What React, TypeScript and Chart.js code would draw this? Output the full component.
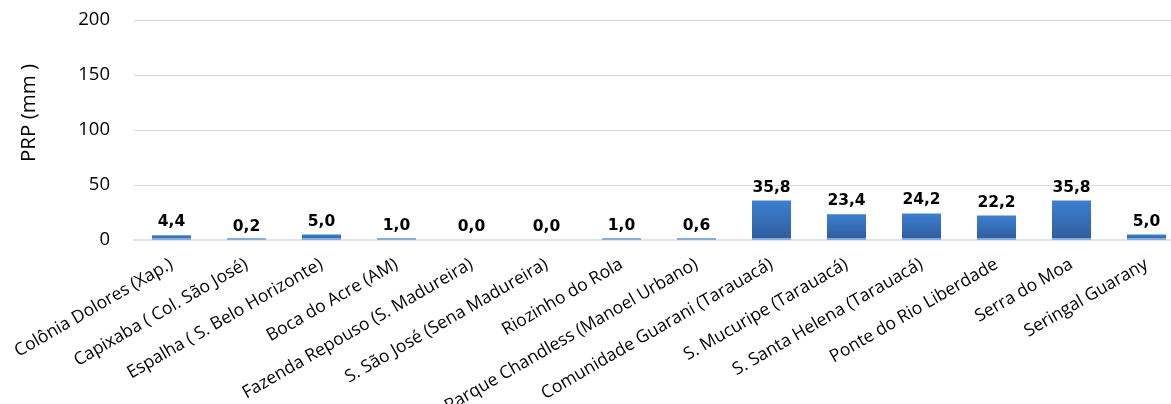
import React, { useEffect, useRef } from "react";
import { Chart, registerables } from "chart.js";

Chart.register(...registerables);

const categories = [
  "Colônia Dolores (Xap.)",
  "Capixaba ( Col. São José)",
  "Espalha ( S. Belo Horizonte)",
  "Boca do Acre (AM)",
  "Fazenda Repouso (S. Madureira)",
  "S. São José (Sena Madureira)",
  "Riozinho do Rola",
  "Parque Chandless (Manoel Urbano)",
  "Comunidade Guarani (Tarauacá)",
  "S. Mucuripe (Tarauacá)",
  "S. Santa Helena (Tarauacá)",
  "Ponte do Rio Liberdade",
  "Serra do Moa",
  "Seringal Guarany",
];

const prpValues = [4.4, 0.2, 5.0, 1.0, 0.0, 0.0, 1.0, 0.6, 35.8, 23.4, 24.2, 22.2, 35.8, 5.0];

const yTicks = [0, 50, 100, 150, 200];
const yTitle = "PRP (mm )";

const fmt = (v: number) => v.toFixed(1).replace(".", ",");

const labelPlugin = {
  id: "valueLabels",
  afterDatasetsDraw(chart: any) {
    const ctx = chart.ctx;
    const meta = chart.getDatasetMeta(0);
    const base = chart.scales.y.getPixelForValue(0);
    ctx.save();
    // light base strip of each non-zero bar (as in the reference rendering)
    ctx.fillStyle = "#86abdc";
    meta.data.forEach((bar: any, i: number) => {
      if (prpValues[i] > 0) {
        ctx.fillRect(bar.x - bar.width / 2, base - 2, bar.width, 2);
      }
    });
    ctx.font = "bold 15.5px 'DejaVu Sans'";
    ctx.fillStyle = "#000000";
    ctx.textAlign = "center";
    ctx.textBaseline = "middle";
    meta.data.forEach((bar: any, i: number) => {
      ctx.fillText(fmt(prpValues[i]), bar.x, bar.y - 13);
    });
    // y-axis title
    const area = chart.chartArea;
    ctx.translate(29, area.top + 93);
    ctx.rotate(-Math.PI / 2);
    ctx.font = "20.5px 'Open Sans'";
    ctx.fillText(yTitle, 0, 0);
    ctx.restore();
  },
};

export default function App() {
  const ref = useRef<HTMLCanvasElement | null>(null);
  useEffect(() => {
    if (!ref.current) return;
    const chart = new Chart(ref.current, {
      type: "bar",
      data: {
        labels: categories,
        datasets: [
          {
            data: prpValues,
            barPercentage: 0.52,
            categoryPercentage: 1,
            backgroundColor: (c: any) => {
              const ch = c.chart;
              const ys = ch.scales?.y;
              if (!ys || c.dataIndex === undefined) return "#3a74c0";
              const top = ys.getPixelForValue(prpValues[c.dataIndex]);
              const bot = ys.getPixelForValue(0);
              if (!isFinite(top) || !isFinite(bot)) return "#3a74c0";
              if (bot - top < 3) return "#7aa3d8";
              const g = ch.ctx.createLinearGradient(0, top, 0, bot);
              g.addColorStop(0, "#3e7fd0");
              g.addColorStop(1, "#2d5d9c");
              return g;
            },
            borderWidth: 0,
          },
        ],
      },
      options: {
        animation: false,
        responsive: false,
        maintainAspectRatio: false,
        layout: { padding: { top: 20, left: 0, right: 0, bottom: 0 } },
        plugins: {
          legend: { display: false },
          tooltip: { enabled: false },
        },
        scales: {
          x: {
            grid: { display: false },
            border: { display: true, color: "#dbe4f0", width: 2 },
            ticks: {
              minRotation: 30,
              maxRotation: 30,
              autoSkip: false,
              color: "#000000",
              font: { family: "'Open Sans'", size: 17.5 },
              padding: 6,
            },
            afterFit: (s: any) => {
              s.height = 164;
              s.paddingTop = 0;
              s.paddingLeft = 0;
              s.paddingRight = 0;
            },
          },
          y: {
            min: 0,
            max: 200,
            afterBuildTicks: (s: any) => {
              s.ticks = yTicks.map((v) => ({ value: v }));
            },
            grid: { color: "#d9d9d9", lineWidth: 1, drawTicks: false },
            border: { display: false },
            ticks: {
              color: "#000000",
              font: { family: "'Open Sans'", size: 18.5 },
              padding: 24,
            },
            title: { display: false },
            afterFit: (s: any) => {
              s.width = 134;
              s.paddingTop = 0;
              s.paddingBottom = 0;
            },
          },
        },
      },
      plugins: [labelPlugin],
    });
    return () => chart.destroy();
  }, []);
  return (
    <div
      style={{
        position: "absolute",
        left: 0,
        top: 0,
        width: 1171,
        height: 404,
        overflow: "hidden",
        background: "#ffffff",
      }}
    >
      <canvas ref={ref} width={1184} height={404} style={{ width: 1184, height: 404 }} />
    </div>
  );
}
